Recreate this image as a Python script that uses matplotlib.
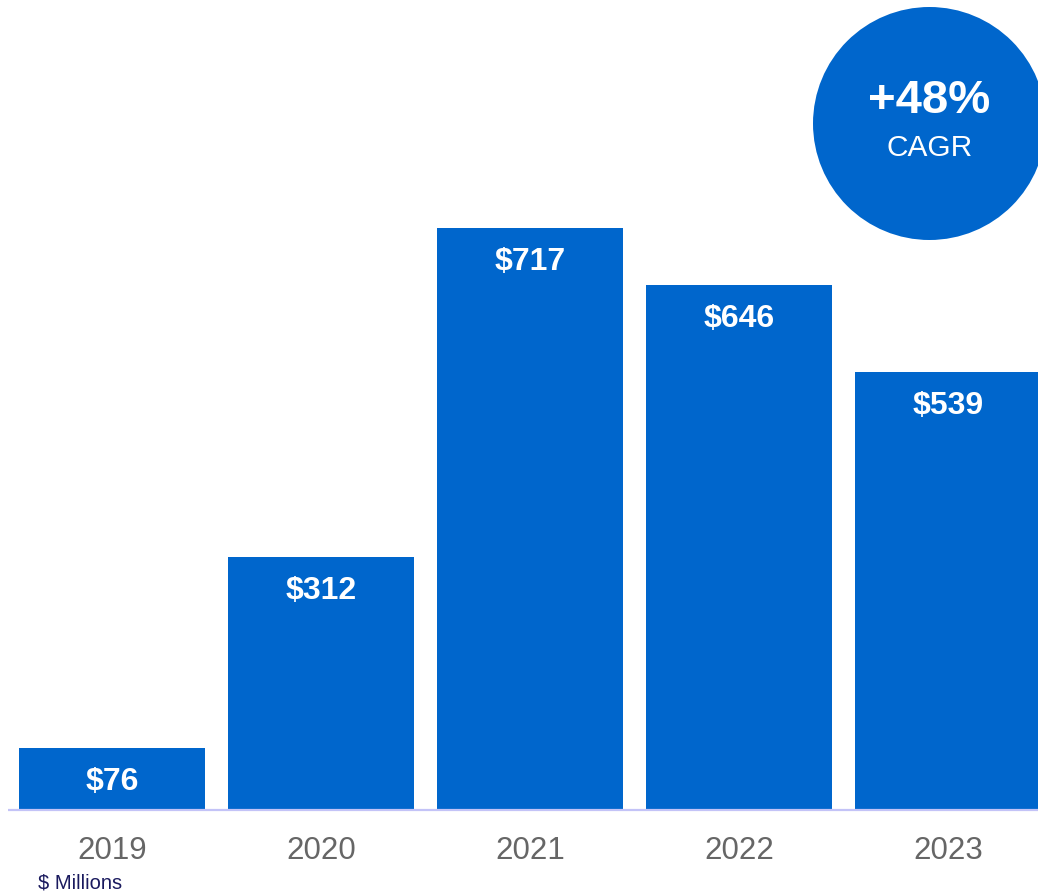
import matplotlib.pyplot as plt
from matplotlib.patches import Ellipse

# Revenue by year ($ millions)
years = ["2019", "2020", "2021", "2022", "2023"]
values = [76, 312, 717, 646, 539]
labels = ["$76", "$312", "$717", "$646", "$539"]
cagr_text = "+48%"
cagr_sub = "CAGR"
unit_note = "$ Millions"

bar_color = '#0066CC'
plt.rcParams['font.family'] = ['Liberation Sans', 'DejaVu Sans']

W, H = 1038, 893
fig = plt.figure(figsize=(W / 100, H / 100), dpi=100)

# axes: baseline at 83 px from bottom, bars spaced 209 px, first center at 112 px
base_px = 83
px_per_unit = 0.812
ax = fig.add_axes([0, base_px / H, 1, (H - base_px) / H])
x = list(range(len(years)))
ax.bar(x, values, width=186 / 209, color=bar_color)
ax.set_xlim(-112 / 209, (W - 112) / 209)
ax.set_ylim(0, (H - base_px) / px_per_unit)
ax.axis('off')

# baseline
ax.plot([-104 / 209, (W - 112) / 209], [0, 0], color='#c3c3f7', lw=1.6,
        clip_on=False, solid_capstyle='butt')

# value labels inside bars
for xi, v, lab in zip(x, values, labels):
    ax.annotate(lab, (xi, v), xytext=(0, -24.5), textcoords='offset points',
                ha='center', va='center', color='white', fontsize=23,
                fontweight='bold')

# year labels under the baseline
for xi, yr in zip(x, years):
    ax.text(xi, -41 / px_per_unit, yr, ha='center', va='center',
            fontsize=22.5, color='#666666', clip_on=False)

fig.text(38 / W, 1 - 883 / H, unit_note, ha='left', va='center',
         fontsize=14.5, color='#1a1a5e')

# CAGR bubble
cx, cy, r = 929.5, 123.5, 116.5
fig.add_artist(Ellipse((cx / W, 1 - cy / H), 2 * r / W, 2 * r / H,
                       transform=fig.transFigure, color=bar_color, lw=0))
fig.text(cx / W, 1 - 101 / H, cagr_text, ha='center', va='center',
         fontsize=34, fontweight='bold', color='white')
fig.text(cx / W, 1 - 148 / H, cagr_sub, ha='center', va='center',
         fontsize=21.5, color='white')

fig.savefig('out.png', dpi=100)
